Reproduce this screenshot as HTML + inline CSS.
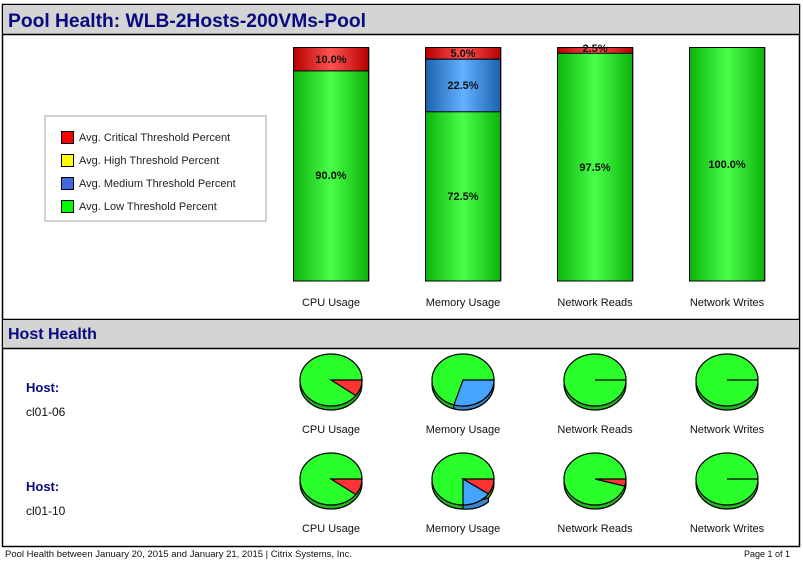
<!DOCTYPE html>
<html><head><meta charset="utf-8"><style>
body{margin:0;background:#fff;}
svg{display:block;font-family:"Liberation Sans",Arial,sans-serif;}
</style></head><body>
<svg width="803" height="569" viewBox="0 0 803 569" xmlns="http://www.w3.org/2000/svg">
<defs>
<linearGradient id="gg" x1="0" x2="1" y1="0" y2="0"><stop offset="0" stop-color="#0db30d"/><stop offset="0.5" stop-color="#48ff48"/><stop offset="1" stop-color="#0db30d"/></linearGradient>
<linearGradient id="gr" x1="0" x2="1" y1="0" y2="0"><stop offset="0" stop-color="#b80000"/><stop offset="0.5" stop-color="#ff5252"/><stop offset="1" stop-color="#b80000"/></linearGradient>
<linearGradient id="gb" x1="0" x2="1" y1="0" y2="0"><stop offset="0" stop-color="#1c62ad"/><stop offset="0.5" stop-color="#62b2ff"/><stop offset="1" stop-color="#1c62ad"/></linearGradient>
</defs>
<rect x="0" y="0" width="803" height="569" fill="#fff"/>
<rect x="2.5" y="4.5" width="797" height="542" fill="none" stroke="#000" stroke-width="1.5"/>
<rect x="3" y="5" width="796" height="29" fill="#d4d4d4"/>
<line x1="2" y1="34.5" x2="800" y2="34.5" stroke="#000" stroke-width="1.5"/>
<text x="8" y="27" font-size="19" font-weight="bold" fill="#0a0a80" textLength="358" lengthAdjust="spacingAndGlyphs">Pool Health: WLB-2Hosts-200VMs-Pool</text>

<rect x="45" y="116" width="221" height="105" fill="#fff" stroke="#d0d0d0" stroke-width="2"/>
<g stroke="#000" stroke-width="1">
<rect x="61.5" y="131.5" width="12" height="12" fill="#ff0000"/>
<rect x="61.5" y="154.5" width="12" height="12" fill="#ffff00"/>
<rect x="61.5" y="177.5" width="12" height="12" fill="#4169e1"/>
<rect x="61.5" y="200.5" width="12" height="12" fill="#00ff00"/>
</g>
<g font-size="11" fill="#222">
<text x="79" y="141">Avg. Critical Threshold Percent</text>
<text x="79" y="164">Avg. High Threshold Percent</text>
<text x="79" y="187">Avg. Medium Threshold Percent</text>
<text x="79" y="210">Avg. Low Threshold Percent</text>
</g>

<g stroke="#000" stroke-width="1">
<rect x="293.5" y="47.5" width="75" height="233.5" fill="url(#gg)"/>
<rect x="293.5" y="47.5" width="75" height="23.4" fill="url(#gr)"/>
<rect x="425.5" y="47.5" width="75" height="233.5" fill="url(#gg)"/>
<rect x="425.5" y="47.5" width="75" height="11.7" fill="url(#gr)"/>
<rect x="425.5" y="59.2" width="75" height="52.6" fill="url(#gb)"/>
<rect x="557.5" y="47.5" width="75" height="233.5" fill="url(#gg)"/>
<rect x="557.5" y="47.5" width="75" height="5.8" fill="url(#gr)"/>
<rect x="689.5" y="47.5" width="75" height="233.5" fill="url(#gg)"/>
</g>
<g stroke="#aaa" stroke-width="1">
<line x1="369.5" y1="47" x2="369.5" y2="281"/><line x1="501.5" y1="47" x2="501.5" y2="281"/>
<line x1="633.5" y1="47" x2="633.5" y2="281"/><line x1="765.5" y1="47" x2="765.5" y2="281"/>
</g>
<g font-size="11" font-weight="bold" fill="#111" text-anchor="middle">
<text x="331" y="63">10.0%</text>
<text x="463" y="57">5.0%</text>
<text x="463" y="89">22.5%</text>
<text x="595" y="52">2.5%</text>
<text x="331" y="179">90.0%</text>
<text x="463" y="200">72.5%</text>
<text x="595" y="171">97.5%</text>
<text x="727" y="168">100.0%</text>
</g>
<g font-size="11" fill="#111" text-anchor="middle">
<text x="331" y="306">CPU Usage</text>
<text x="463" y="306">Memory Usage</text>
<text x="595" y="306">Network Reads</text>
<text x="727" y="306">Network Writes</text>
</g>

<line x1="2" y1="319.5" x2="800" y2="319.5" stroke="#000" stroke-width="1.5"/>
<rect x="3" y="320" width="796" height="28" fill="#d4d4d4"/>
<line x1="2" y1="348.5" x2="800" y2="348.5" stroke="#000" stroke-width="1.5"/>
<text x="8" y="339" font-size="16" font-weight="bold" fill="#0a0a80">Host Health</text>

<text x="26" y="392" font-size="13" font-weight="bold" fill="#0a0a80">Host:</text>
<text x="26" y="416" font-size="12" fill="#111">cl01-06</text>
<text x="26" y="491" font-size="13" font-weight="bold" fill="#0a0a80">Host:</text>
<text x="26" y="515" font-size="12" fill="#111">cl01-10</text>

<g stroke="#000" stroke-width="1.2">
<ellipse cx="331" cy="384" rx="31" ry="26" fill="#1fb81f"/>
<ellipse cx="331" cy="380" rx="31" ry="26" fill="#2bff2b"/>
<path d="M331,380 L362,380 A31,26 0 0 1 355.8,395.6 Z" fill="#ff3333"/>
<ellipse cx="463" cy="384" rx="31" ry="26" fill="#1fb81f"/>
<path d="M494,380 L494,384 A31,26 0 0 1 453.9,408.9 L453.9,404.9 Z" fill="#3a85cc"/>
<ellipse cx="463" cy="380" rx="31" ry="26" fill="#2bff2b"/>
<path d="M463,380 L494,380 A31,26 0 0 1 453.9,404.9 Z" fill="#44a4ff"/>
<ellipse cx="595" cy="384" rx="31" ry="26" fill="#1fb81f"/>
<ellipse cx="595" cy="380" rx="31" ry="26" fill="#2bff2b"/>
<line x1="595" y1="380" x2="626" y2="380"/>
<ellipse cx="727" cy="384" rx="31" ry="26" fill="#1fb81f"/>
<ellipse cx="727" cy="380" rx="31" ry="26" fill="#2bff2b"/>
<line x1="727" y1="380" x2="758" y2="380"/>
</g>
<g stroke="#000" stroke-width="1.2">
<ellipse cx="331" cy="483" rx="31" ry="26" fill="#1fb81f"/>
<ellipse cx="331" cy="479" rx="31" ry="26" fill="#2bff2b"/>
<path d="M331,479 L362,479 A31,26 0 0 1 355.8,494.6 Z" fill="#ff3333"/>
<ellipse cx="463" cy="483" rx="31" ry="26" fill="#1fb81f"/>
<path d="M488.4,497.9 L488.4,501.9 A31,26 0 0 1 463,509 L463,505 Z" fill="#3a85cc"/>
<ellipse cx="463" cy="479" rx="31" ry="26" fill="#2bff2b"/>
<path d="M463,479 L494,479 A31,26 0 0 1 488.4,493.9 Z" fill="#ff3333"/>
<path d="M463,479 L488.4,493.9 A31,26 0 0 1 463,505 Z" fill="#44a4ff"/>
<ellipse cx="595" cy="483" rx="31" ry="26" fill="#1fb81f"/>
<ellipse cx="595" cy="479" rx="31" ry="26" fill="#2bff2b"/>
<path d="M595,479 L626,479 A31,26 0 0 1 624.8,486.2 Z" fill="#ff3333"/>
<ellipse cx="727" cy="483" rx="31" ry="26" fill="#1fb81f"/>
<ellipse cx="727" cy="479" rx="31" ry="26" fill="#2bff2b"/>
<line x1="727" y1="479" x2="758" y2="479"/>
</g>
<g font-size="11" fill="#111" text-anchor="middle">
<text x="331" y="433">CPU Usage</text>
<text x="463" y="433">Memory Usage</text>
<text x="595" y="433">Network Reads</text>
<text x="727" y="433">Network Writes</text>
<text x="331" y="532">CPU Usage</text>
<text x="463" y="532">Memory Usage</text>
<text x="595" y="532">Network Reads</text>
<text x="727" y="532">Network Writes</text>
</g>

<text x="5" y="557" font-size="9" fill="#111" textLength="347" lengthAdjust="spacingAndGlyphs">Pool Health between January 20, 2015 and January 21, 2015 | Citrix Systems, Inc.</text>
<text x="790" y="557" font-size="9" fill="#111" text-anchor="end">Page 1 of 1</text>
</svg>
</body></html>
